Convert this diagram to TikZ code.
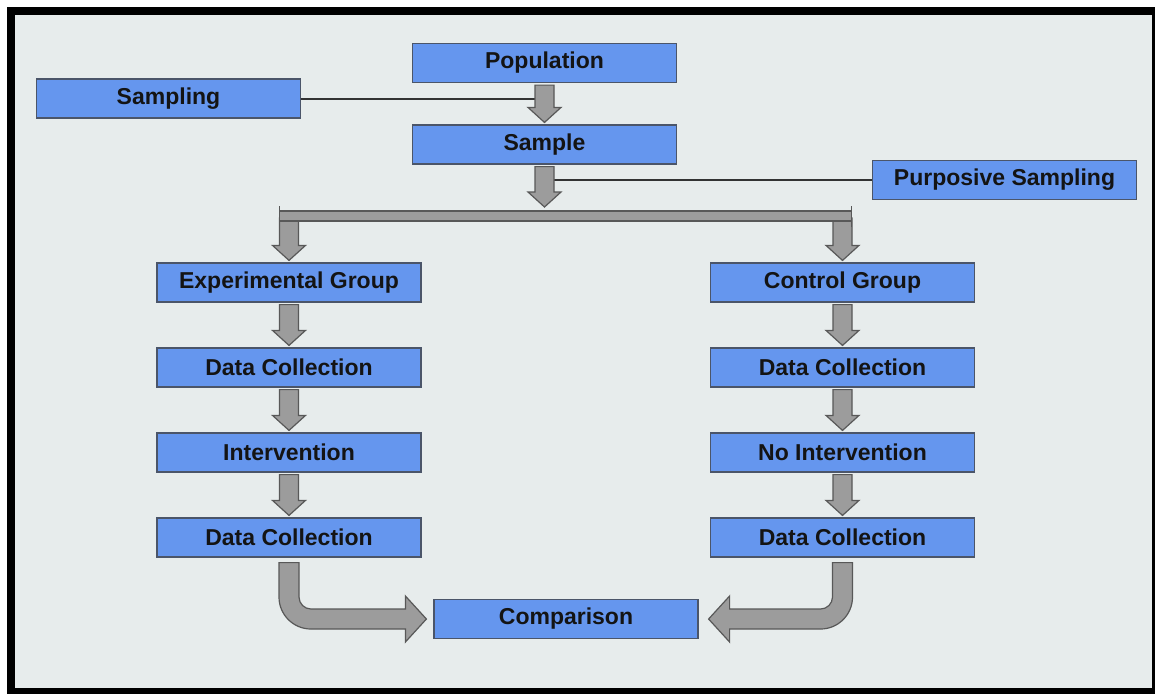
\documentclass[tikz,border=0pt]{standalone}
\usepackage{fontspec}
\setmainfont{Liberation Sans}
\usetikzlibrary{calc}

\definecolor{boxblue}{RGB}{101,150,238}
\definecolor{boxline}{RGB}{75,85,105}
\definecolor{arrowgray}{RGB}{156,156,156}
\definecolor{arrowline}{RGB}{88,88,88}
\definecolor{paper}{RGB}{231,236,236}

\tikzset{
	box/.style={draw=boxline, fill=boxblue, line width=0.6pt, minimum width=132pt, minimum height=19.5pt, inner sep=0pt, font=\fontsize{11.5}{13}\selectfont\bfseries, text=black!92},
	blockarr/.style={fill=arrowgray, draw=arrowline, line width=0.6pt},
	link/.style={draw=black!80, line width=1pt}
}

\newcommand{\blockdown}[2]{%
	\filldraw [blockarr] let \p1=(#1), \p2=(#2) in
		(\x2-4.75pt,\y1-1pt) -- (\x2+4.75pt,\y1-1pt) -- (\x2+4.75pt,\y2+8.5pt) -- (\x2+8.25pt,\y2+8.5pt)
		-- (\x2,\y2+1pt) -- (\x2-8.25pt,\y2+8.5pt) -- (\x2-4.75pt,\y2+8.5pt) -- cycle;}

\begin{document}
\begin{tikzpicture}[x=0.5pt,y=-0.5pt]
			\useasboundingbox (0,0) rectangle (1155,693);
			\draw [line width=4pt, fill=paper] (11,11) rectangle (1156,692);

			\node [box](pop) at (544.5,63) {Population};
			\node [box](sampling) at (168.5,98.5) {Sampling};
			\node [box](sample) at (544.5,144.5) {Sample};
			\node [box](purp) at (1004.5,180) {Purposive Sampling};

			\node [box](exp) at (289,282.5) {Experimental Group};
			\node [box](dcl1) at (289,367.5) {Data Collection};
			\node [box](intv) at (289,452.5) {Intervention};
			\node [box](dcl2) at (289,537.5) {Data Collection};

			\node [box](ctrl) at (842.5,282.5) {Control Group};
			\node [box](dcr1) at (842.5,367.5) {Data Collection};
			\node [box](nointv) at (842.5,452.5) {No Intervention};
			\node [box](dcr2) at (842.5,537.5) {Data Collection};

			\node [box](cmp) at (566,619) {Comparison};

			\coordinate (split) at (544.5,209);
			\coordinate (barL) at (279.5,216);
			\coordinate (barR) at (851.5,216);

			\draw [link](sampling.east) -- (sampling.east -| pop.south);
			\draw [link](sample.south |- purp.west) -- (purp.west);

			\blockdown{pop.south}{sample.north}
			\blockdown{sample.south}{split}

			\blockdown{barL}{exp.north}
			\blockdown{barR}{ctrl.north}
			\filldraw [blockarr]([yshift=2.5pt]barL) rectangle ([yshift=-2.5pt]barR);
			\draw [arrowline, line width=0.6pt]([yshift=5pt]barL) -- ([yshift=-5.5pt]barL);
			\draw [arrowline, line width=0.6pt]([yshift=5pt]barR) -- ([yshift=-5.5pt]barR);

			\blockdown{exp.south}{dcl1.north}
			\blockdown{dcl1.south}{intv.north}
			\blockdown{intv.south}{dcl2.north}

			\blockdown{ctrl.south}{dcr1.north}
			\blockdown{dcr1.south}{nointv.north}
			\blockdown{nointv.south}{dcr2.north}

			\filldraw [blockarr] let \p1=(dcl2.south), \p2=(cmp.west) in
				(\x1-5pt,\y1-2.5pt) -- (\x1-5pt,\y2+11pt)
				.. controls (\x1-5pt,\y2+2.16pt) and (\x1+2.16pt,\y2-5pt) .. (\x1+11pt,\y2-5pt)
				-- (\x2-14pt,\y2-5pt) -- (\x2-14pt,\y2-11.5pt) -- (\x2-3.5pt,\y2)
				-- (\x2-14pt,\y2+11.5pt) -- (\x2-14pt,\y2+5pt) -- (\x1+11pt,\y2+5pt)
				.. controls (\x1+7.7pt,\y2+5pt) and (\x1+5pt,\y2+7.7pt) .. (\x1+5pt,\y2+11pt)
				-- (\x1+5pt,\y1-2.5pt) -- cycle;

			\filldraw [blockarr] let \p1=(dcr2.south), \p2=(cmp.east) in
				(\x1+5pt,\y1-2.5pt) -- (\x1+5pt,\y2+11pt)
				.. controls (\x1+5pt,\y2+2.16pt) and (\x1-2.16pt,\y2-5pt) .. (\x1-11pt,\y2-5pt)
				-- (\x2+15.5pt,\y2-5pt) -- (\x2+15.5pt,\y2-11.5pt) -- (\x2+5pt,\y2)
				-- (\x2+15.5pt,\y2+11.5pt) -- (\x2+15.5pt,\y2+5pt) -- (\x1-11pt,\y2+5pt)
				.. controls (\x1-7.7pt,\y2+5pt) and (\x1-5pt,\y2+7.7pt) .. (\x1-5pt,\y2+11pt)
				-- (\x1-5pt,\y1-2.5pt) -- cycle;

		\end{tikzpicture}
\end{document}
